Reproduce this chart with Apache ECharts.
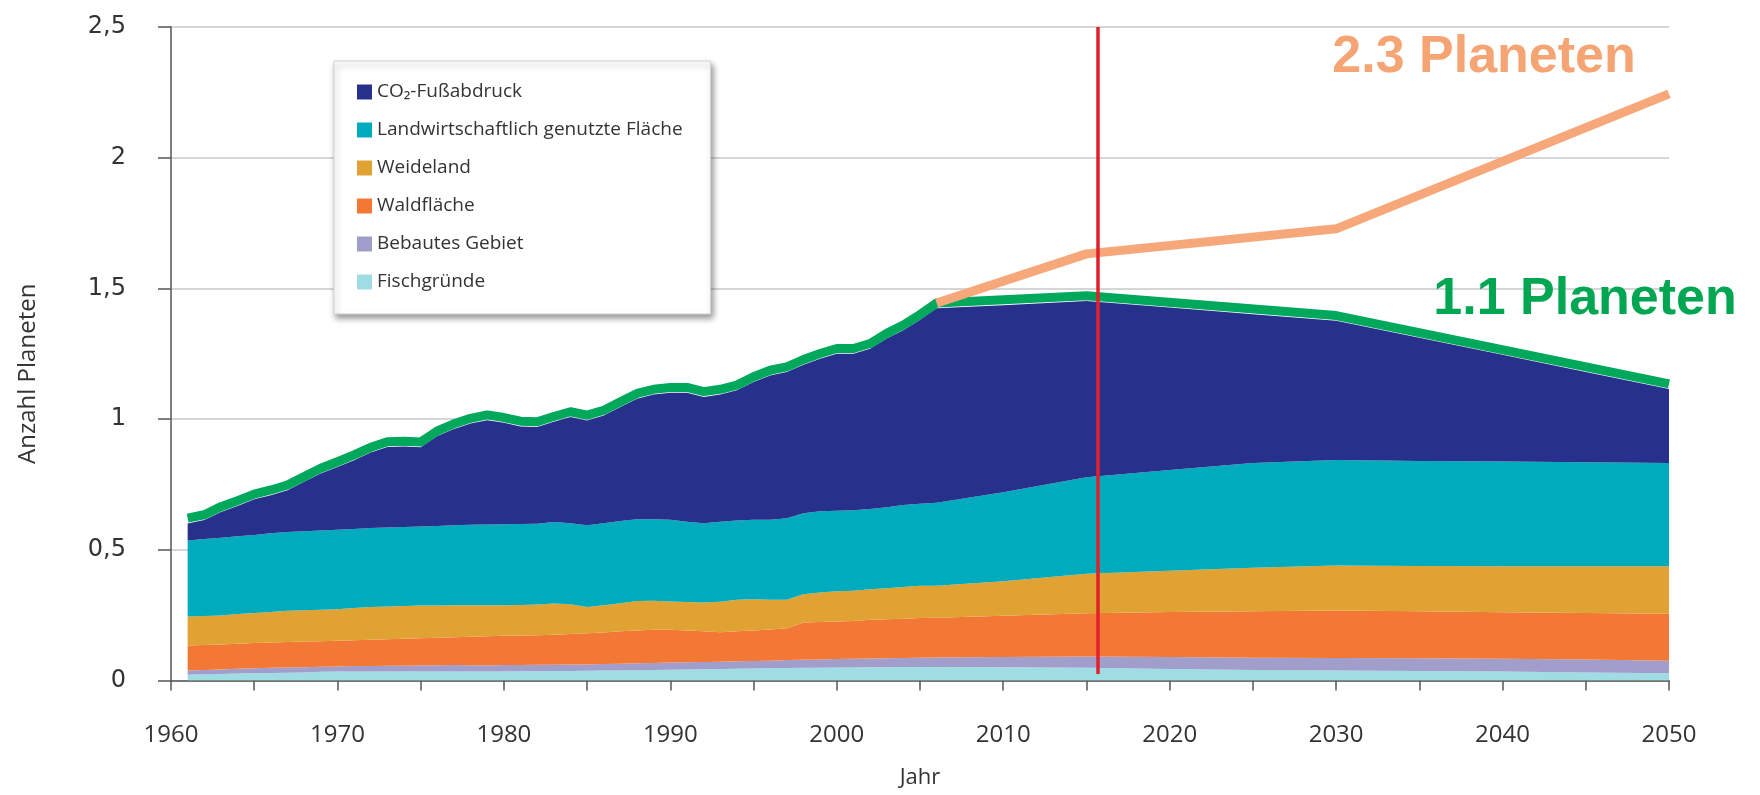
<!DOCTYPE html>
<html>
<head>
<meta charset="utf-8">
<script src="https://cdn.jsdelivr.net/npm/echarts@6/dist/echarts.min.js"></script>
<style>
html,body{margin:0;padding:0;background:#ffffff;}
#chart{width:1760px;height:795px;}
</style>
</head>
<body>
<div id="chart"></div>
<script>
// ---------- data ----------
const years = [
  1961,1962,1963,1964,1965,1966,1967,1968,1969,1970,
  1971,1972,1973,1974,1975,1976,1977,1978,1979,1980,
  1981,1982,1983,1984,1985,1986,1987,1988,1989,1990,
  1991,1992,1993,1994,1995,1996,1997,1998,1999,2000,
  2001,2002,2003,2004,2005,2006,
  2010,2015,2020,2025,2030,2035,2040,2045,2050
];
const fischgruende = [
  .022,.024,.025,.027,.028,.029,.030,.031,.033,.034,
  .034,.034,.034,.034,.034,.034,.034,.034,.034,.034,
  .035,.035,.036,.036,.037,.038,.038,.039,.040,.041,
  .042,.043,.044,.045,.046,.047,.048,.049,.049,.050,
  .050,.051,.051,.052,.052,.052,
  .051,.049,.044,.040,.038,.036,.034,.031,.028
];
const bebautesGebiet = [
  .016,.016,.017,.018,.019,.020,.020,.020,.020,.020,
  .021,.021,.022,.022,.023,.024,.025,.024,.023,.025,
  .024,.025,.024,.025,.024,.025,.026,.027,.027,.028,
  .028,.028,.028,.029,.029,.029,.030,.030,.031,.032,
  .033,.033,.034,.034,.035,.036,
  .039,.043,.046,.047,.048,.049,.049,.049,.048
];
const waldflaeche = [
  .096,.096,.096,.096,.096,.096,.097,.098,.097,.098,
  .099,.101,.102,.104,.105,.106,.106,.109,.112,.112,
  .113,.113,.115,.117,.120,.121,.124,.125,.127,.125,
  .121,.117,.113,.114,.116,.119,.122,.143,.144,.144,
  .145,.148,.149,.150,.152,.152,
  .158,.165,.172,.178,.182,.180,.178,.178,.179
];
const weideland = [
  .111,.111,.111,.113,.115,.117,.120,.120,.121,.121,
  .123,.125,.125,.125,.125,.123,.123,.121,.119,.117,
  .117,.118,.120,.114,.100,.104,.108,.113,.111,.108,
  .109,.110,.116,.121,.120,.114,.109,.108,.113,.115,
  .115,.117,.119,.122,.123,.122,
  .132,.151,.158,.166,.172,.173,.176,.179,.182
];
const landwirtschaft = [
  .291,.294,.297,.298,.299,.301,.301,.302,.303,.304,
  .303,.302,.302,.302,.302,.304,.306,.308,.309,.310,
  .310,.309,.311,.310,.313,.314,.314,.313,.312,.313,
  .307,.304,.306,.303,.304,.306,.312,.310,.310,.308,
  .308,.307,.310,.313,.314,.318,
  .340,.370,.385,.401,.404,.402,.401,.398,.395
];
const co2 = [
  .065,.073,.099,.116,.136,.146,.160,.189,.218,.240,
  .263,.289,.308,.308,.303,.344,.368,.387,.399,.388,
  .373,.370,.384,.406,.401,.412,.436,.461,.477,.486,
  .494,.483,.487,.498,.527,.552,.559,.568,.584,.601,
  .599,.613,.645,.669,.704,.744,
  .716,.674,.622,.569,.532,.471,.408,.345,.283
];
// green outline (total footprint, "1.1 Planeten" path)
const totalYears = [
  1961,1962,1963,1964,1965,1966,1967,1968,1969,1970,
  1971,1972,1973,1974,1975,1976,1977,1978,1979,1980,
  1981,1982,1983,1984,1985,1986,1987,1988,1989,1990,
  1991,1992,1993,1994,1995,1996,1997,1998,1999,2000,
  2001,2002,2003,2004,2005,2006,
  2015,2030,2050
];
const totalValues = [
  .621,.634,.665,.688,.713,.729,.748,.780,.812,.837,
  .863,.892,.913,.915,.912,.955,.982,1.003,1.016,1.006,
  .992,.990,1.010,1.028,1.015,1.034,1.066,1.098,1.114,1.121,
  1.121,1.105,1.114,1.130,1.162,1.187,1.200,1.228,1.251,1.270,
  1.270,1.289,1.328,1.360,1.400,1.444,
  1.472,1.396,1.135
];
// orange trend ("2.3 Planeten" path)
const trendYears = [2006, 2015, 2030, 2050];
const trendValues = [1.444, 1.632, 1.728, 2.244];
// red marker line (today)
const markerYear = 2015.7;
const markerFrom = 0.025;
const markerTo = 2.5;

const layerNames = ['Fischgründe','Bebautes Gebiet','Waldfläche','Weideland','Landwirtschaftlich genutzte Fläche','CO₂-Fußabdruck'];
const layerValues = [fischgruende, bebautesGebiet, waldflaeche, weideland, landwirtschaft, co2];
const legendOrder = ['CO₂-Fußabdruck','Landwirtschaftlich genutzte Fläche','Weideland','Waldfläche','Bebautes Gebiet','Fischgründe'];
const xLabelYears = [1960,1970,1980,1990,2000,2010,2020,2030,2040,2050];
const yTickLabels = {0:'0', 0.5:'0,5', 1:'1', 1.5:'1,5', 2:'2', 2.5:'2,5'};
const annotationTexts = ['2.3 Planeten', '1.1 Planeten'];

// ---------- styles ----------
const layerColors = ['#a0dce4','#a19ecc','#f37735','#e0a232','#00abbd','#27318b'];
const greenColor = '#00a85c';
const orangeColor = '#f7a87a';
const redColor = '#e0202a';
const axisColor = '#555555';
const textColor = '#333333';

const pairs = (xs, ys) => xs.map((x, i) => [x, ys[i]]);
// value first so that ECharts stacks the y dimension (both axes are value axes)
const valueFirstPairs = (xs, ys) => xs.map((x, i) => [ys[i], x]);

const series = layerNames.map((name, k) => ({
  name: name,
  type: 'line',
  stack: 'footprint',
  data: valueFirstPairs(years, layerValues[k]),
  encode: { x: 1, y: 0 },
  symbol: 'none',
  showSymbol: false,
  smooth: false,
  lineStyle: { width: 0, color: layerColors[k] },
  itemStyle: { color: layerColors[k] },
  areaStyle: { color: layerColors[k], opacity: 1 },
  z: 2,
  silent: true
}));

series.push({
  name: 'Gesamt',
  type: 'line',
  data: pairs(totalYears, totalValues),
  symbol: 'none',
  showSymbol: false,
  smooth: false,
  lineStyle: { width: 9, color: greenColor, join: 'round' },
  itemStyle: { color: greenColor },
  z: 3,
  silent: true
});

series.push({
  name: 'Trend',
  type: 'line',
  data: pairs(trendYears, trendValues),
  symbol: 'none',
  showSymbol: false,
  lineStyle: { width: 9, color: orangeColor, join: 'round' },
  itemStyle: { color: orangeColor },
  z: 4,
  silent: true,
  markLine: {
    silent: true,
    symbol: ['none', 'none'],
    label: { show: false },
    lineStyle: { color: redColor, width: 3.5, type: 'solid' },
    data: [[ { coord: [markerYear, markerFrom] }, { coord: [markerYear, markerTo] } ]]
  }
});

const chart = echarts.init(document.getElementById('chart'), null, { renderer: 'canvas' });
chart.setOption({
  backgroundColor: '#ffffff',
  animation: false,
  grid: { left: 171, right: 91, top: 27, bottom: 114.5, containLabel: false },
  xAxis: {
    type: 'value',
    min: 1960, max: 2050, interval: 5,
    name: 'Jahr',
    nameLocation: 'middle',
    nameGap: 86,
    nameTextStyle: { fontFamily: 'Open Sans', fontSize: 22, color: textColor },
    axisLine: { show: true, lineStyle: { color: axisColor, width: 1.5 } },
    axisTick: { show: true, inside: false, length: 10, lineStyle: { color: axisColor, width: 1.5 } },
    axisLabel: {
      margin: 43, fontFamily: 'Open Sans', fontSize: 24, color: textColor,
      showMinLabel: true, showMaxLabel: true,
      formatter: v => xLabelYears.includes(v) ? String(v) : ''
    },
    splitLine: { show: false }
  },
  yAxis: {
    type: 'value',
    min: 0, max: 2.5, interval: 0.5,
    name: 'Anzahl Planeten',
    nameLocation: 'middle',
    nameRotate: 90,
    nameGap: 131,
    nameTextStyle: { fontFamily: 'Open Sans', fontSize: 24, color: textColor, padding: [0, 40, 0, 0] },
    axisLine: { show: true, lineStyle: { color: axisColor, width: 1.5 } },
    axisTick: { show: true, inside: false, length: 13, lineStyle: { color: axisColor, width: 1.5 } },
    axisLabel: {
      margin: 45, fontFamily: 'DejaVu Sans', fontSize: 24, color: textColor,
      formatter: v => (yTickLabels[v] !== undefined ? yTickLabels[v] : '')
    },
    splitLine: { show: true, lineStyle: { color: '#c8c8c8', width: 1.5 } }
  },
  legend: {
    data: legendOrder,
    orient: 'vertical',
    left: 334, top: 61,
    icon: 'rect',
    itemWidth: 15, itemHeight: 15, itemGap: 18,
    padding: [21, 28, 22, 23],
    backgroundColor: '#ffffff',
    borderColor: '#d2d2d2', borderWidth: 1,
    shadowBlur: 6, shadowColor: 'rgba(0,0,0,0.40)', shadowOffsetX: 2, shadowOffsetY: 4,
    selectedMode: false,
    textStyle: { fontFamily: 'Open Sans', fontSize: 19, color: textColor, lineHeight: 20 }
  },
  graphic: [
    {
      type: 'text', x: 1484, y: 58, z: 10,
      style: { text: annotationTexts[0], font: 'bold 52px "Liberation Sans", Arial, sans-serif',
               fill: '#f5a473', align: 'center', verticalAlign: 'middle' }
    },
    {
      type: 'text', x: 1585, y: 300, z: 10,
      style: { text: annotationTexts[1], font: 'bold 52px "Liberation Sans", Arial, sans-serif',
               fill: '#00a651', align: 'center', verticalAlign: 'middle' }
    }
  ],
  series: series
});
</script>
</body>
</html>
